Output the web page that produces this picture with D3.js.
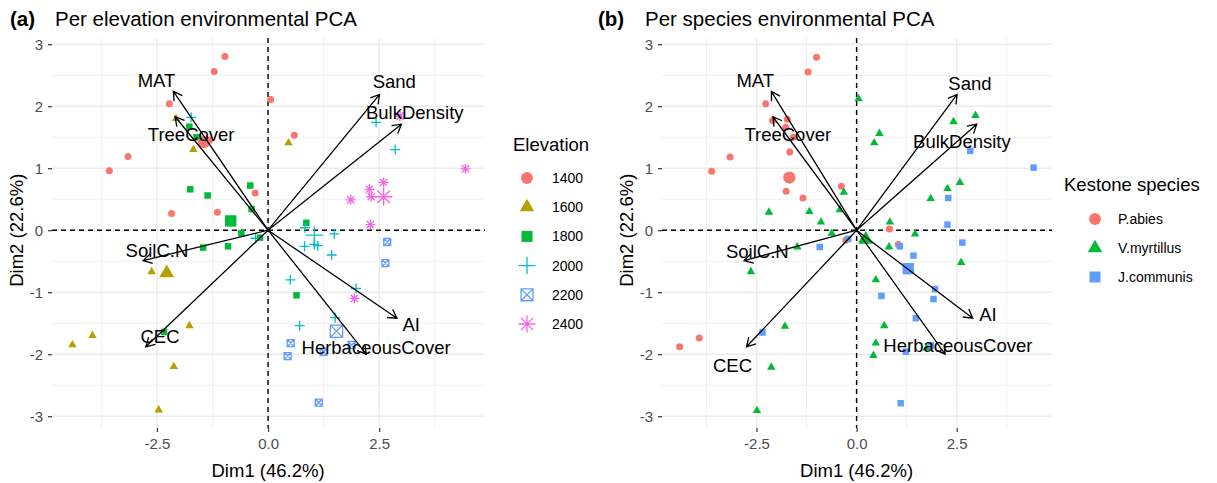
<!DOCTYPE html>
<html>
<head>
<meta charset="utf-8">
<script src="https://cdn.jsdelivr.net/npm/d3@7"></script>
<style>
body { margin: 0; background: #fff; }
svg { font-family: "Liberation Sans", Arial, sans-serif; }
</style>
</head>
<body>
<svg id="chart" width="1217" height="483"></svg>
<script>
// axes
var xDomain = [-4.86, 4.88], yDomain = [-3.19, 3.1];
var xTicks = [-2.5, 0, 2.5], yTicks = [-3, -2, -1, 0, 1, 2, 3];
var xMinor = [-3.75, -1.25, 1.25, 3.75], yMinor = [-2.5, -1.5, -0.5, 0.5, 1.5, 2.5];

// variable arrows (Dim1, Dim2)
var varNames = ["MAT", "TreeCover", "Sand", "BulkDensity", "SoilC.N", "CEC", "AI", "HerbaceousCover"];
var varDim1 = [-2.13, -2.09, 2.51, 3.0, -2.81, -2.75, 2.9, 2.21];
var varDim2 = [2.24, 1.83, 2.19, 1.71, -0.49, -1.88, -1.42, -2.0];
var labDim1A = [-2.51, -1.73, 2.84, 3.30, -2.5, -2.43, 3.22, 2.43];
var labDim2A = [2.42, 1.55, 2.39, 1.89, -0.33, -1.71, -1.52, -1.90];
var labDim1B = [-2.53, -1.72, 2.83, 2.63, -2.48, -3.1, 3.28, 2.53];
var labDim2B = [2.41, 1.55, 2.37, 1.43, -0.34, -2.18, -1.36, -1.86];

// panel (a): individuals by elevation
var elevations = ["1400", "1600", "1800", "2000", "2200", "2400"];
var elev1400 = [[-0.97, 2.80], [-1.21, 2.56], [-2.22, 2.04], [0.06, 2.11], [0.59, 1.53], [-3.15, 1.19],
  [-3.57, 0.96], [-1.32, 1.45], [-0.29, 0.60], [-2.17, 0.27], [-1.14, 0.29]];
var elev1600 = [[-2.07, 1.80], [-1.68, 1.30], [0.46, 1.41], [-2.62, -0.67], [-1.77, -1.54], [-3.95, -1.70],
  [-4.40, -1.85], [-2.12, -2.20], [-2.46, -2.90]];
var elev1800 = [[-1.77, 1.67], [-1.61, 1.50], [-1.75, 0.66], [-1.36, 0.56], [-0.40, 0.72], [-0.37, 0.34],
  [0.86, 0.12], [-0.60, -0.05], [-0.18, -0.12], [-1.46, -0.28], [-0.90, -0.26], [0.64, -1.05], [-2.34, -1.64]];
var elev2000 = [[-1.73, 1.82], [2.43, 1.74], [2.86, 1.30], [0.83, 0.04], [1.49, -0.06], [0.82, -0.26],
  [1.04, -0.23], [1.12, -0.25], [1.43, -0.40], [0.50, -0.80], [1.98, -0.94], [1.51, -1.41], [-0.28, -0.13], [0.71, -1.54]];
var elev2200 = [[2.68, -0.19], [2.64, -0.53], [0.51, -1.82], [0.44, -2.03], [1.25, -1.96], [1.88, -1.85], [1.14, -2.78]];
var elev2400 = [[2.97, 1.84], [4.44, 0.99], [2.60, 0.77], [2.28, 0.66], [2.32, 0.54], [1.86, 0.49], [2.30, 0.09], [1.94, -1.10]];
var meansA = [[-1.44, 1.42], [-2.28, -0.69], [-0.84, 0.15], [1.04, -0.08], [1.54, -1.63], [2.60, 0.54]];

// panel (b): individuals by keystone species
var species = ["P.abies", "V.myrtillus", "J.communis"];
var pAbies = [[-1.0, 2.79], [-1.21, 2.55], [-2.27, 2.04], [-2.1, 1.77], [-1.73, 1.79], [-1.77, 1.66],
  [-1.58, 1.50], [-1.67, 1.26], [-3.16, 1.18], [-3.62, 0.95], [-1.76, 0.63], [-1.34, 0.52], [-0.38, 0.71],
  [0.82, 0.02], [1.04, -0.23], [-0.27, -0.16], [-3.93, -1.74], [-4.42, -1.88]];
var vMyrtillus = [[0.05, 2.12], [0.57, 1.56], [0.44, 1.41], [-0.32, 0.61], [-0.42, 0.33], [-1.18, 0.30],
  [-0.89, 0.13], [-2.19, 0.29], [2.97, 1.85], [2.42, 1.75], [2.58, 0.77], [2.27, 0.67], [1.85, 0.51],
  [0.83, 0.13], [-0.62, -0.05], [-1.48, -0.27], [0.15, -0.16], [0.81, -0.27], [1.46, -0.06], [2.61, -0.52],
  [0.48, -0.80], [-2.64, -0.67], [-1.79, -1.55], [-2.13, -2.21], [-2.49, -2.91], [0.69, -1.54],
  [0.48, -1.82], [0.42, -2.02], [1.75, -1.90]];
var jCommunis = [[2.84, 1.28], [4.42, 1.01], [2.29, 0.52], [2.27, 0.09], [2.64, -0.20], [1.42, -0.41],
  [1.08, -0.26], [-0.92, -0.27], [-0.21, -0.14], [1.96, -0.95], [1.92, -1.11], [0.62, -1.06], [1.48, -1.42],
  [-2.35, -1.65], [1.23, -1.96], [1.86, -1.86], [1.10, -2.79]];
var meansB = [[-1.68, 0.85], [0.23, -0.15], [1.29, -0.62]];

var colorsA = ["#F8766D", "#B79F00", "#00BA38", "#00BFC4", "#619CFF", "#F564E3"];
var shapesA = ["circle", "triangle", "square", "plus", "squarex", "asterisk"];
var colorsB = ["#F8766D", "#00BA38", "#619CFF"];
var shapesB = ["circle", "triangle", "square"];

var svg = d3.select("#chart");

// ggplot-like point shapes, s = nominal size in px
function shapePath(shape, s) {
  var r = s / 2, p = d3.path();
  if (shape == "circle") { p.arc(0, 0, r, 0, 2 * Math.PI); }
  else if (shape == "square") { p.rect(-r, -r, s, s); }
  else if (shape == "triangle") {
    var h = s * Math.sqrt(3) / 2;
    p.moveTo(0, -h * 2 / 3); p.lineTo(r, h / 3); p.lineTo(-r, h / 3); p.closePath();
  }
  else if (shape == "plus") { p.moveTo(-r, 0); p.lineTo(r, 0); p.moveTo(0, -r); p.lineTo(0, r); }
  else if (shape == "squarex") {
    p.rect(-r, -r, s, s); p.moveTo(-r, -r); p.lineTo(r, r); p.moveTo(r, -r); p.lineTo(-r, r);
  }
  else if (shape == "asterisk") {
    var q = r * 0.72;
    p.moveTo(-r, 0); p.lineTo(r, 0); p.moveTo(0, -r); p.lineTo(0, r);
    p.moveTo(-q, -q); p.lineTo(q, q); p.moveTo(q, -q); p.lineTo(-q, q);
  }
  return p.toString();
}
var filled = {circle: true, square: true, triangle: true};

function drawShape(g, shape, color, x, y, s) {
  var el = g.append("path")
      .attr("d", shapePath(shape, s))
      .attr("transform", "translate(" + x + "," + y + ")");
  if (filled[shape]) el.attr("fill", color);
  else el.attr("fill", "none").attr("stroke", color).attr("stroke-width", 1.3);
}

function pointSize(shape, big) {
  var base = {circle: 7, square: 6.5, triangle: 8.5, plus: 10, squarex: 7, asterisk: 10}[shape];
  return big ? base * 1.75 : base;
}

function panel(opt) {
  var x = d3.scaleLinear().domain(xDomain).range([opt.x0, opt.x1]);
  var y = d3.scaleLinear().domain(yDomain).range([428, 38]);
  var g = svg.append("g");

  // grid
  g.selectAll(".vminor").data(xMinor).join("line")
      .attr("x1", d => x(d)).attr("x2", d => x(d)).attr("y1", 38).attr("y2", 428)
      .attr("stroke", "#F0F0F0").attr("stroke-width", 1);
  g.selectAll(".hminor").data(yMinor).join("line")
      .attr("y1", d => y(d)).attr("y2", d => y(d)).attr("x1", opt.x0).attr("x2", opt.x1)
      .attr("stroke", "#F0F0F0").attr("stroke-width", 1);
  g.selectAll(".vmajor").data(xTicks).join("line")
      .attr("x1", d => x(d)).attr("x2", d => x(d)).attr("y1", 38).attr("y2", 428)
      .attr("stroke", "#EBEBEB").attr("stroke-width", 1.4);
  g.selectAll(".hmajor").data(yTicks).join("line")
      .attr("y1", d => y(d)).attr("y2", d => y(d)).attr("x1", opt.x0).attr("x2", opt.x1)
      .attr("stroke", "#EBEBEB").attr("stroke-width", 1.4);

  // axes
  var ax = g.append("g").attr("transform", "translate(0,428)")
      .call(d3.axisBottom(x).tickValues(xTicks).tickSize(4).tickPadding(6).tickFormat(d => d.toFixed(1)));
  var ay = g.append("g").attr("transform", "translate(" + opt.x0 + ",0)")
      .call(d3.axisLeft(y).tickValues(yTicks).tickSize(4).tickPadding(5).tickFormat(d => String(d)));
  [ax, ay].forEach(function(a) {
    a.select(".domain").remove();
    a.selectAll(".tick line").attr("stroke", "#333").attr("stroke-width", 1.2);
    a.selectAll(".tick text").attr("fill", "#4D4D4D").style("font-size", "15px")
        .style("font-family", "Liberation Sans, Arial, sans-serif");
  });

  // zero lines
  g.append("line").attr("x1", opt.x0).attr("x2", opt.x1).attr("y1", y(0)).attr("y2", y(0))
      .attr("stroke", "#000").attr("stroke-width", 1.4).attr("stroke-dasharray", "5,4");
  g.append("line").attr("x1", x(0)).attr("x2", x(0)).attr("y1", 38).attr("y2", 428)
      .attr("stroke", "#000").attr("stroke-width", 1.4).attr("stroke-dasharray", "5,4");

  // individuals
  opt.groups.forEach(function(pts, i) {
    pts.forEach(function(d) {
      drawShape(g, opt.shapes[i], opt.colors[i], x(d[0]), y(d[1]), pointSize(opt.shapes[i], false));
    });
  });
  opt.means.forEach(function(d, i) {
    drawShape(g, opt.shapes[i], opt.colors[i], x(d[0]), y(d[1]), pointSize(opt.shapes[i], true));
  });

  // variable arrows
  varNames.forEach(function(name, i) {
    var x0 = x(0), y0 = y(0), x1 = x(varDim1[i]), y1 = y(varDim2[i]);
    var ang = Math.atan2(y1 - y0, x1 - x0), len = 10, spread = Math.PI / 6;
    var p = d3.path();
    p.moveTo(x0, y0); p.lineTo(x1, y1);
    p.moveTo(x1 - len * Math.cos(ang - spread), y1 - len * Math.sin(ang - spread));
    p.lineTo(x1, y1);
    p.lineTo(x1 - len * Math.cos(ang + spread), y1 - len * Math.sin(ang + spread));
    g.append("path").attr("d", p.toString()).attr("fill", "none")
        .attr("stroke", "#000").attr("stroke-width", 1.3);
    g.append("text").attr("x", x(opt.labX[i])).attr("y", y(opt.labY[i]))
        .attr("text-anchor", "middle").attr("dy", "0.35em")
        .style("font-size", "18.5px").attr("fill", "#000").text(name);
  });

  // axis titles
  g.append("text").attr("x", x(0)).attr("y", 477).attr("text-anchor", "middle")
      .style("font-size", "18.5px").text("Dim1 (46.2%)");
  g.append("text").attr("transform", "translate(" + opt.ytitleX + "," + y(0) + ") rotate(-90)")
      .attr("text-anchor", "middle").style("font-size", "18.5px").text("Dim2 (22.6%)");

  // panel title
  g.append("text").attr("x", opt.tagX).attr("y", 26).style("font-size", "20.5px")
      .style("font-weight", "bold").text(opt.tag);
  g.append("text").attr("x", opt.titleX).attr("y", 26).style("font-size", "20.5px").text(opt.title);

  // legend
  var lg = svg.append("g");
  lg.append("text").attr("x", opt.legX).attr("y", opt.legY).style("font-size", "18.5px").text(opt.legTitle);
  opt.legLabels.forEach(function(lab, i) {
    var cy = opt.legY + opt.legFirst + i * opt.legStep;
    drawShape(lg, opt.shapes[i], opt.colors[i], opt.keyX, cy, pointSize(opt.shapes[i], false) * 1.7);
    lg.append("text").attr("x", opt.labelX).attr("y", cy).attr("dy", "0.35em")
        .style("font-size", "14px").text(lab);
  });
}

panel({
  x0: 52, x1: 485, groups: [elev1400, elev1600, elev1800, elev2000, elev2200, elev2400], means: meansA,
  colors: colorsA, shapes: shapesA, labX: labDim1A, labY: labDim2A, ytitleX: 23,
  tag: "(a)", tagX: 10, title: "Per elevation environmental PCA", titleX: 55,
  legTitle: "Elevation", legLabels: elevations, legX: 513, legY: 151, legFirst: 27, legStep: 29.2,
  keyX: 527, labelX: 552
});
panel({
  x0: 662, x1: 1052, groups: [pAbies, vMyrtillus, jCommunis], means: meansB,
  colors: colorsB, shapes: shapesB, labX: labDim1B, labY: labDim2B, ytitleX: 633,
  tag: "(b)", tagX: 598, title: "Per species environmental PCA", titleX: 645,
  legTitle: "Kestone species", legLabels: species, legX: 1064, legY: 191, legFirst: 28, legStep: 29,
  keyX: 1095, labelX: 1118
});
</script>
</body>
</html>
